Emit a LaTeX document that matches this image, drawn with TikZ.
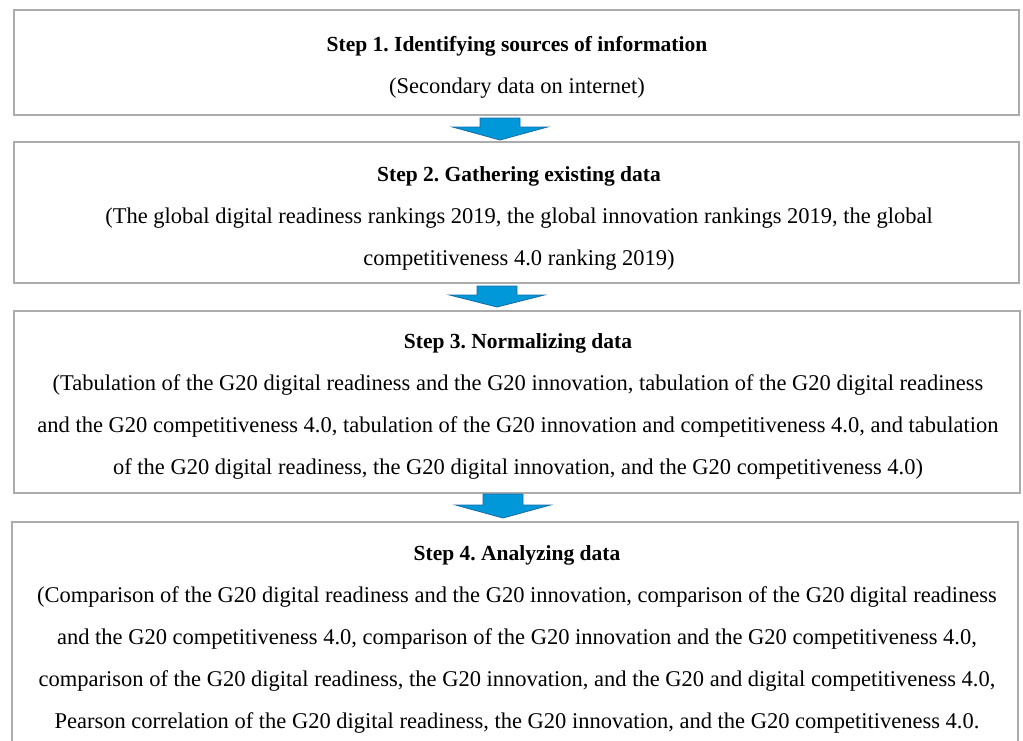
\documentclass[tikz,border=0pt]{standalone}
\usepackage{fontspec}
\setmainfont{Liberation Serif}
\frenchspacing
\definecolor{boxgray}{RGB}{172,172,172}
\definecolor{arrowfill}{RGB}{0,152,216}
\definecolor{arrowline}{RGB}{22,108,170}
\newcommand{\steptitle}[1]{{\fontsize{21.5}{42}\selectfont\bfseries #1}}
\tikzset{
  stepbox/.style={draw=boxgray, line width=2.2pt, fill=white, inner sep=0pt},
  steptext/.style={align=center, inner sep=0pt, anchor=base, font=\fontsize{22.5}{42}\selectfont},
  flowarrow/.style={fill=arrowfill, draw=arrowline, line width=0.8pt, line join=miter}
}
\newcommand{\blockarrow}[4]{% x, ytop, ywing, ytip
  \fill[flowarrow] (#1-20,#2) -- (#1+20,#2) -- (#1+20,#3) -- (#1+47.5,#3) -- (#1,#4) -- (#1-47.5,#3) -- (#1-20,#3) -- cycle;
}
\begin{document}
\begin{tikzpicture}[x=1pt,y=-1pt]
\useasboundingbox (0,0) rectangle (1023,740);
\clip (0,0) rectangle (1023,740);
\fill[white] (0,0) rectangle (1023,740);

\path[stepbox] (14,10) rectangle (1019,115);
\node (b1) at (516.5,62.5) {};
\path[stepbox] (14,142) rectangle (1019,283);
\node (b2) at (516.5,212.5) {};
\path[stepbox] (14,311) rectangle (1020,493);
\node (b3) at (517,402) {};
\path[stepbox] (12,522) rectangle (1018,760);
\node (b4) at (515,641) {};

\node[steptext] (t1) at (517,93) {\steptitle{Step 1. Identifying sources of information}\\(Secondary data on internet)};
\node[steptext] (t2) at (519,265) {\steptitle{Step 2. Gathering existing data}\\(The global digital readiness rankings 2019, the global innovation rankings 2019, the global\\competitiveness 4.0 ranking 2019)};
\node[steptext] (t3) at (518,474) {\steptitle{Step 3. Normalizing data}\\(Tabulation of the G20 digital readiness and the G20 innovation, tabulation of the G20 digital readiness\\and the G20 competitiveness 4.0, tabulation of the G20 innovation and competitiveness 4.0, and tabulation\\of the G20 digital readiness, the G20 digital innovation, and the G20 competitiveness 4.0)};
\node[steptext] (t4) at (517,728) {\steptitle{Step 4. Analyzing data}\\(Comparison of the G20 digital readiness and the G20 innovation, comparison of the G20 digital readiness\\and the G20 competitiveness 4.0, comparison of the G20 innovation and the G20 competitiveness 4.0,\\comparison of the G20 digital readiness, the G20 innovation, and the G20 and digital competitiveness 4.0,\\Pearson correlation of the G20 digital readiness, the G20 innovation, and the G20 competitiveness 4.0.};

\blockarrow{500}{118}{127}{140}
\blockarrow{497}{286}{295}{307}
\blockarrow{503}{494}{505}{518}
\end{tikzpicture}
\end{document}
